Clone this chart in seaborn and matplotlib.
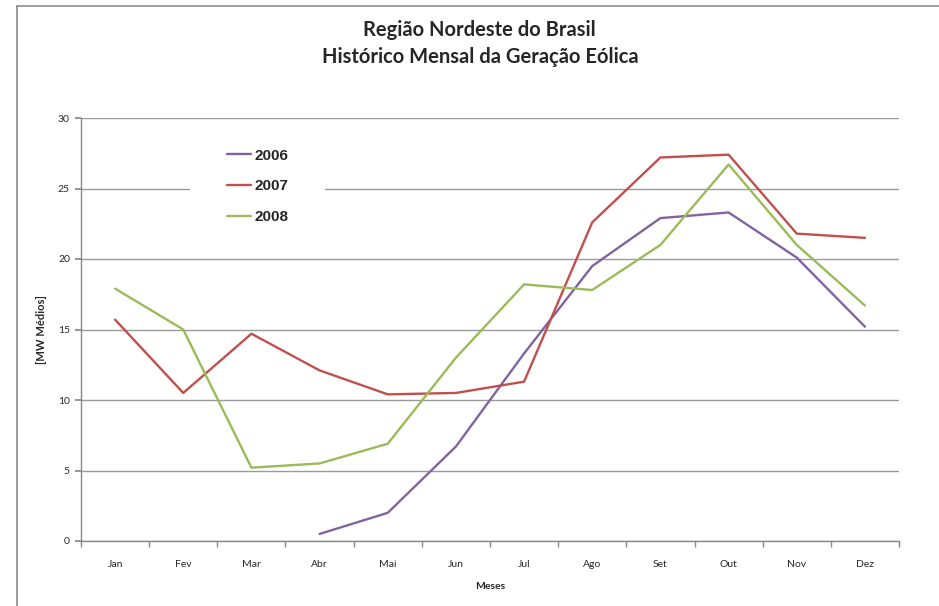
import numpy as np
import pandas as pd
import seaborn as sns
import matplotlib.pyplot as plt
from matplotlib.lines import Line2D
from matplotlib.patches import Rectangle

meses = ['Jan', 'Fev', 'Mar', 'Abr', 'Mai', 'Jun', 'Jul', 'Ago', 'Set', 'Out', 'Nov', 'Dez']
g2006 = [np.nan, np.nan, np.nan, 0.5, 2.0, 6.7, 13.3, 19.5, 22.9, 23.3, 20.1, 15.2]
g2007 = [15.7, 10.5, 14.7, 12.1, 10.4, 10.5, 11.3, 22.6, 27.2, 27.4, 21.8, 21.5]
g2008 = [17.9, 15.0, 5.2, 5.5, 6.9, 13.0, 18.2, 17.8, 21.0, 26.7, 21.0, 16.7]
anos = ['2006', '2007', '2008']
cores = ['#8064A2', '#C0504D', '#9BBB59']

df = pd.concat([
    pd.DataFrame({'mes': range(12), 'valor': v, 'ano': a})
    for a, v in zip(anos, [g2006, g2007, g2008])
]).dropna()

sns.set_theme(style='white')
plt.rcParams['font.family'] = ['Lato', 'DejaVu Sans']

fig = plt.figure(figsize=(9.39, 6.06), dpi=100)
ax = fig.add_axes([81 / 939, 1 - 541 / 606, 818 / 939, 423 / 606])

sns.lineplot(data=df, x='mes', y='valor', hue='ano', palette=dict(zip(anos, cores)),
             linewidth=1.7, ax=ax, legend=False)

ax.set_xlim(-0.5, 11.5)
ax.set_ylim(0, 30)
ax.set_yticks(range(0, 31, 5))
ax.set_xticks(range(12))
ax.set_xticklabels(meses, fontsize=7.5)
ax.set_xticks(np.arange(-0.5, 12, 1), minor=True)
ax.tick_params(axis='x', which='major', length=0, pad=14)
ax.tick_params(axis='x', which='minor', length=4, color='#888888', direction='out', bottom=True)
ax.tick_params(axis='y', length=4, color='#888888', direction='out', left=True, labelsize=7.5, pad=4)
ax.grid(axis='y', color='#9a9a9a', linewidth=1)
ax.set_axisbelow(True)
for s in ['top', 'right']:
    ax.spines[s].set_visible(False)
for s in ['left', 'bottom']:
    ax.spines[s].set_color('#888888')
    ax.spines[s].set_linewidth(1)

ax.set_xlabel('Meses', fontsize=7.5, fontweight='bold', labelpad=9)
ax.set_ylabel('[MW Médios]', fontsize=8, fontweight='bold', labelpad=8)

# white legend area interrupting the gridline
ax.add_patch(Rectangle(((190 - 81) / 818, (541 - 230) / 423), 135 / 818, 95 / 423,
                       transform=ax.transAxes, facecolor='white', edgecolor='none', zorder=1.5))

handles = [Line2D([], [], color=c, linewidth=1.7) for c in cores]
leg = ax.legend(handles, anos, loc='upper left', bbox_to_anchor=((222 - 81) / 818, (541 - 144) / 423),
                frameon=False, handlelength=1.6, handletextpad=0.2,
                labelspacing=1.1, borderpad=0.3, borderaxespad=0)
for t in leg.get_texts():
    t.set_fontsize(11)
    t.set_fontweight('bold')
    t.set_family(['Liberation Sans', 'DejaVu Sans'])

fig.text(0.511, 1 - 30 / 606, 'Região Nordeste do Brasil', ha='center', va='center',
         fontsize=14.5, fontweight='bold')
fig.text(0.511, 1 - 57 / 606, 'Histórico Mensal da Geração Eólica', ha='center', va='center',
         fontsize=14.5, fontweight='bold')

# chart area border (top and left visible)
fig.add_artist(Line2D([17 / 939, 1], [1 - 6 / 606, 1 - 6 / 606], color='#8a8a8a', linewidth=1.2,
                      transform=fig.transFigure))
fig.add_artist(Line2D([17 / 939, 17 / 939], [0, 1 - 6 / 606], color='#8a8a8a', linewidth=1.2,
                      transform=fig.transFigure))

fig.savefig('out.png', dpi=100, facecolor='white')
